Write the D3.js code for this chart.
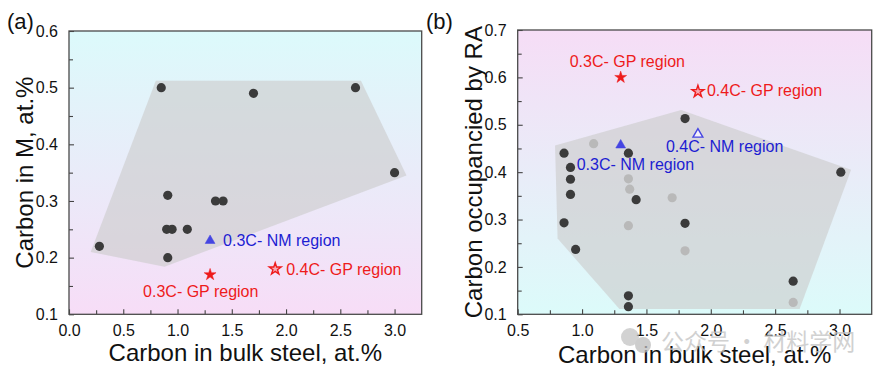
<!DOCTYPE html>
<html>
<head>
<meta charset="utf-8">
<script src="https://cdn.jsdelivr.net/npm/d3@7"></script>
<style>
  body { margin: 0; background: #fff; }
  svg { display: block; font-family: "Liberation Sans", Arial, sans-serif; }
</style>
</head>
<body>
<svg id="chart" width="886" height="377"></svg>
<script>
// ---- panel (a): carbon in martensite ----
const aTicksX = [0, 0.5, 1.0, 1.5, 2.0, 2.5, 3.0];
const aTicksY = [0.1, 0.2, 0.3, 0.4, 0.5, 0.6];
const aDarkX = [0.85, 1.70, 2.64, 3.00, 0.91, 1.35, 1.42, 0.90, 0.95, 1.09, 0.28, 0.91];
const aDarkY = [0.50, 0.49, 0.50, 0.35, 0.31, 0.30, 0.30, 0.25, 0.25, 0.25, 0.22, 0.20];
const aHullX = [0.80, 2.69, 3.11, 0.88, 0.20];
const aHullY = [0.512, 0.512, 0.345, 0.184, 0.21];
const aMarkNames = ["0.3C- NM region", "0.3C- GP region", "0.4C- GP region"];
const aMarkX = [1.30, 1.30, 1.90];
const aMarkY = [0.23, 0.17, 0.18];

// ---- panel (b): carbon occupied by retained austenite ----
const bTicksX = [0.5, 1.0, 1.5, 2.0, 2.5, 3.0];
const bTicksY = [0.1, 0.2, 0.3, 0.4, 0.5, 0.6, 0.7];
const bDarkX = [0.86, 0.91, 0.91, 0.91, 0.86, 0.95, 1.36, 1.42, 1.36, 1.36, 1.80, 1.80, 3.01, 2.64];
const bDarkY = [0.44, 0.41, 0.385, 0.353, 0.293, 0.237, 0.44, 0.342, 0.139, 0.116, 0.513, 0.292, 0.40, 0.17];
const bLightX = [1.09, 1.36, 1.37, 1.36, 1.70, 1.80, 2.64];
const bLightY = [0.46, 0.386, 0.364, 0.287, 0.346, 0.234, 0.125];
const bHullX = [0.79, 1.77, 3.09, 2.69, 1.29, 0.81];
const bHullY = [0.456, 0.531, 0.405, 0.111, 0.111, 0.26];
const bMarkNames = ["0.3C- GP region", "0.4C- GP region", "0.3C- NM region", "0.4C- NM region"];
const bMarkX = [1.30, 1.90, 1.30, 1.90];
const bMarkY = [0.60, 0.57, 0.457, 0.48];

const red = "#ee1b1b";
const blue = "#1d1dd2";
const fmt = d3.format(".1f");

const svg = d3.select("#chart");
const defs = svg.append("defs");

function gradient(id, top, bottom) {
    var g = defs.append("linearGradient")
        .attr("id", id)
        .attr("x1", 0).attr("y1", 0)
        .attr("x2", 0).attr("y2", 1);
    g.append("stop").attr("offset", "0%").attr("stop-color", top);
    g.append("stop").attr("offset", "100%").attr("stop-color", bottom);
}
gradient("bgA", "#dcfafb", "#f7ddf7");
gradient("bgB", "#f6ddf6", "#dcfbfa");

function drawPanel(p) {
    var x = d3.scaleLinear().domain(p.domainX).range([p.left, p.right]);
    var y = d3.scaleLinear().domain(p.domainY).range([p.bottom, p.top]);
    var g = svg.append("g");

    g.append("rect")
        .attr("x", p.left).attr("y", p.top)
        .attr("width", p.right - p.left).attr("height", p.bottom - p.top)
        .attr("fill", "url(#" + p.bg + ")");

    // grey region
    var hull = p.hullX.map(function(v, i) { return [x(v), y(p.hullY[i])]; });
    g.append("path")
        .attr("d", d3.line()(hull) + "Z")
        .attr("fill", "rgba(204,204,204,0.62)");

    // axes with inward ticks
    var minorX = p.ticksX.map(function(v) { return v + 0.25; }).filter(function(v) { return v < p.domainX[1]; });
    var minorY = p.ticksY.map(function(v) { return v + 0.05; }).filter(function(v) { return v < p.domainY[1]; });

    g.append("g")
        .attr("transform", "translate(0," + p.bottom + ")")
        .call(d3.axisBottom(x).tickValues(p.ticksX).tickFormat(fmt).tickSizeInner(-5).tickSizeOuter(0).tickPadding(10))
        .call(function(a) { a.select(".domain").remove(); })
        .call(function(a) { a.selectAll("text").attr("font-size", 16).attr("fill", "#111").attr("dy", "0.71em"); });
    g.append("g")
        .attr("transform", "translate(0," + p.bottom + ")")
        .call(d3.axisBottom(x).tickValues(minorX).tickFormat("").tickSizeInner(-4).tickSizeOuter(0))
        .call(function(a) { a.select(".domain").remove(); });
    g.append("g")
        .attr("transform", "translate(" + p.left + ",0)")
        .call(d3.axisLeft(y).tickValues(p.ticksY).tickFormat(fmt).tickSizeInner(-5).tickSizeOuter(0).tickPadding(11))
        .call(function(a) { a.select(".domain").remove(); })
        .call(function(a) { a.selectAll("text").attr("font-size", 16).attr("fill", "#111"); });
    g.append("g")
        .attr("transform", "translate(" + p.left + ",0)")
        .call(d3.axisLeft(y).tickValues(minorY).tickFormat("").tickSizeInner(-4).tickSizeOuter(0))
        .call(function(a) { a.select(".domain").remove(); });
    g.selectAll(".tick line").attr("stroke", "#444").attr("stroke-width", 1.1);

    g.append("rect")
        .attr("x", p.left).attr("y", p.top)
        .attr("width", p.right - p.left).attr("height", p.bottom - p.top)
        .attr("fill", "none").attr("stroke", "#4a4a4a").attr("stroke-width", 1.3);

    // data points
    if (p.lightX) {
        g.selectAll(".light")
            .data(p.lightX)
            .enter()
            .append("circle")
            .attr("cx", function(d) { return x(d); })
            .attr("cy", function(d, i) { return y(p.lightY[i]); })
            .attr("r", 4.6)
            .attr("fill", "#b9b9b9");
    }
    g.selectAll(".dark")
        .data(p.darkX)
        .enter()
        .append("circle")
        .attr("cx", function(d) { return x(d); })
        .attr("cy", function(d, i) { return y(p.darkY[i]); })
        .attr("r", 4.6)
        .attr("fill", "#3b3b3b");

    // special markers with their labels
    p.markNames.forEach(function(name, i) {
        var mx = x(p.markX[i]), my = y(p.markY[i]);
        var isGP = name.indexOf("GP") >= 0;
        var hollow = name.indexOf("0.4C") === 0;
        var sym = d3.symbol().type(isGP ? d3.symbolStar : d3.symbolTriangle).size(isGP ? 44 : 42);
        g.append("path")
            .attr("d", sym())
            .attr("transform", "translate(" + mx + "," + my + ")")
            .attr("fill", hollow ? (isGP ? "#f7a9b4" : "#f4f0fb") : (isGP ? red : "#4545e2"))
            .attr("stroke", isGP ? red : "#4545e2")
            .attr("stroke-width", hollow ? 1.4 : 0.5);
        var off = p.labelOffsets[i];
        g.append("text")
            .attr("x", mx + off[0])
            .attr("y", my + off[1])
            .attr("font-size", 16)
            .attr("fill", isGP ? red : blue)
            .text(name);
    });

    // axis titles
    g.append("text")
        .attr("x", (p.left + p.right) / 2)
        .attr("y", p.xTitleY)
        .attr("text-anchor", "middle")
        .attr("font-size", 24)
        .attr("fill", "#111")
        .text(p.xTitle);
    g.append("text")
        .attr("transform", "translate(" + p.yTitleX + "," + ((p.top + p.bottom) / 2) + ") rotate(-90)")
        .attr("text-anchor", "middle")
        .attr("font-size", 24)
        .attr("fill", "#111")
        .text(p.yTitle);
    g.append("text")
        .attr("x", p.tagX)
        .attr("y", 29)
        .attr("font-size", 22)
        .attr("fill", "#111")
        .text(p.tag);
}

drawPanel({
    left: 69, right: 421.7, top: 31, bottom: 314.3,
    domainX: [0, 3.25], domainY: [0.1, 0.6],
    ticksX: aTicksX, ticksY: aTicksY,
    darkX: aDarkX, darkY: aDarkY,
    hullX: aHullX, hullY: aHullY,
    markNames: aMarkNames, markX: aMarkX, markY: aMarkY,
    labelOffsets: [[13, 5.5], [-67, 22.5], [11, 6]],
    bg: "bgA",
    xTitle: "Carbon in bulk steel, at.%", xTitleY: 361,
    yTitle: "Carbon in M, at.%", yTitleX: 33,
    tag: "(a)", tagX: 7
});

drawPanel({
    left: 517.7, right: 871.7, top: 30, bottom: 314.3,
    domainX: [0.5, 3.25], domainY: [0.1, 0.7],
    ticksX: bTicksX, ticksY: bTicksY,
    darkX: bDarkX, darkY: bDarkY,
    lightX: bLightX, lightY: bLightY,
    hullX: bHullX, hullY: bHullY,
    markNames: bMarkNames, markX: bMarkX, markY: bMarkY,
    labelOffsets: [[-51, -10.5], [9, 4.5], [-44, 25], [-32, 17.5]],
    bg: "bgB",
    xTitle: "Carbon in bulk steel, at.%", xTitleY: 363,
    yTitle: "Carbon occupancied by RA", yTitleX: 481.5,
    tag: "(b)", tagX: 426
});

// watermark
var wm = svg.append("g").attr("opacity", 0.75);
wm.append("circle").attr("cx", 630).attr("cy", 337).attr("r", 9).attr("fill", "#c4c4c4");
wm.append("circle").attr("cx", 643).attr("cy", 345).attr("r", 8).attr("fill", "#bdbdbd");
wm.append("text")
    .attr("x", 661)
    .attr("y", 350)
    .attr("font-size", 23)
    .attr("font-family", "'Noto Sans CJK SC', sans-serif")
    .attr("fill", "#c2c2c2")
    .text("公众号 · 材料学网");
</script>
</body>
</html>
